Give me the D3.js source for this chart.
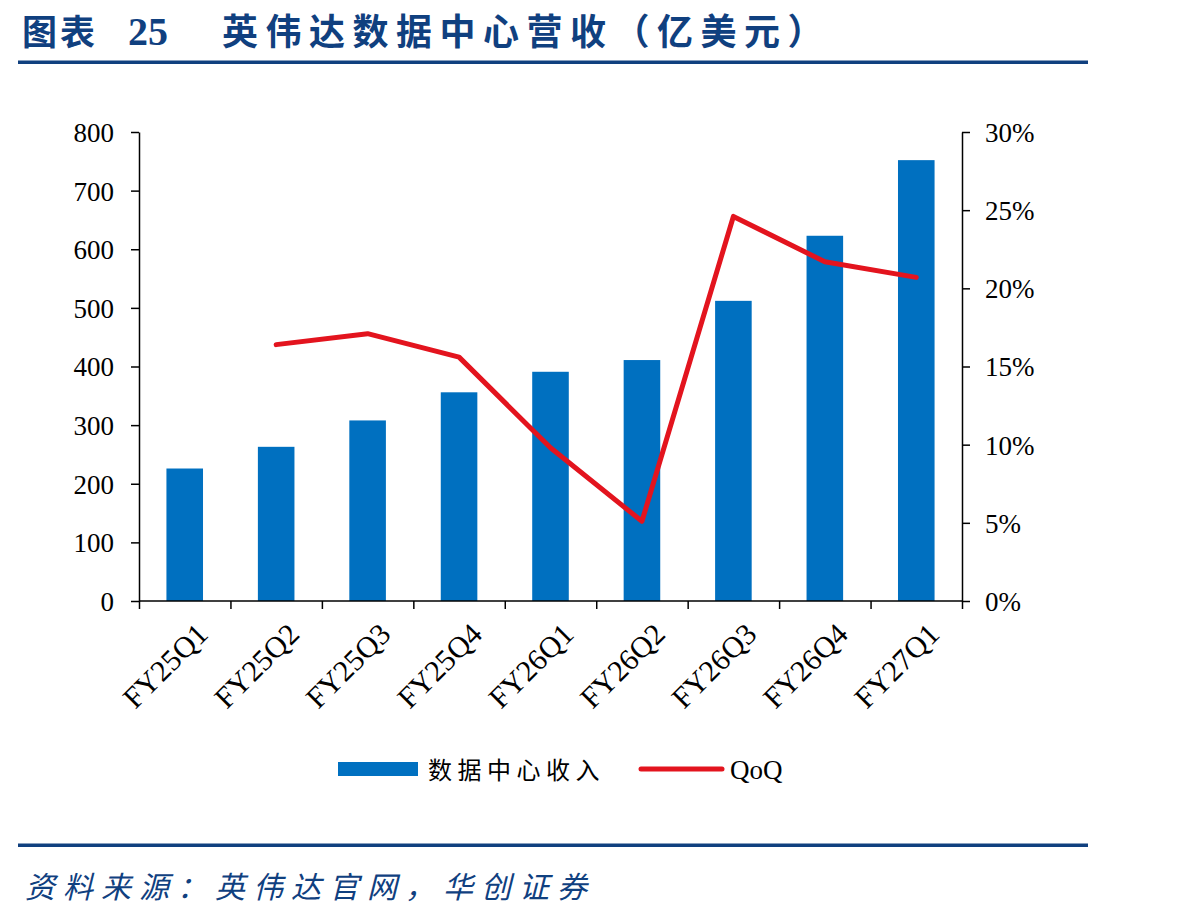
<!DOCTYPE html>
<html lang="zh">
<head>
  <meta charset="UTF-8">
  <title>英伟达数据中心营收</title>
  <style>
    body { margin: 0; background: #fff; }
    .axis text { font-family: "Liberation Serif", "DejaVu Serif", serif; font-size: 27px; fill: #000; }
    .axis path, .axis line { stroke: #000; stroke-width: 1.5; }
  </style>
</head>
<body>
  <svg id="chart" width="1198" height="922"></svg>
  <script src="https://d3js.org/d3.v7.min.js"></script>
  <script>
    // data
    const quarters = ['FY25Q1','FY25Q2','FY25Q3','FY25Q4','FY26Q1','FY26Q2','FY26Q3','FY26Q4','FY27Q1'];
    const revenue = [226, 263, 308, 356, 391, 411, 512, 623, 752];
    const qoq = [null, 16.4, 17.1, 15.6, 9.8, 5.1, 24.6, 21.7, 20.7];
    const leftTicks = [0, 100, 200, 300, 400, 500, 600, 700, 800];
    const rightTicks = [0, 5, 10, 15, 20, 25, 30];

    const BLUE = '#0070C0';
    const RED = '#E3141E';
    const NAVY = '#10407F';

    const svg = d3.select('#chart');
    const plot = {left: 139, right: 962, top: 132, bottom: 601};

    // header
    svg.append('text')
      .attr('x', 22).attr('y', 45)
      .attr('fill', NAVY)
      .style('font-family', '"Noto Sans CJK SC", sans-serif')
      .style('font-weight', 'bold')
      .style('font-size', '35px')
      .style('letter-spacing', '3px')
      .text('图表');
    svg.append('text')
      .attr('x', 128).attr('y', 45)
      .attr('fill', NAVY)
      .style('font-family', '"Liberation Serif", serif')
      .style('font-weight', 'bold')
      .style('font-size', '40px')
      .text('25');
    svg.append('text')
      .attr('x', 222).attr('y', 45)
      .attr('fill', NAVY)
      .style('font-family', '"Noto Sans CJK SC", sans-serif')
      .style('font-weight', 'bold')
      .style('font-size', '36px')
      .style('letter-spacing', '7.5px')
      .text('英伟达数据中心营收（亿美元）');
    svg.append('rect').attr('x', 18).attr('y', 60.5).attr('width', 1070).attr('height', 3.5).attr('fill', NAVY);

    // scales
    const x = d3.scaleBand().domain(quarters).range([plot.left, plot.right]).paddingInner(0.6).paddingOuter(0.3);
    const xPoint = d => x(d) + x.bandwidth() / 2;
    const yL = d3.scaleLinear().domain([0, 800]).range([plot.bottom, plot.top]);
    const yR = d3.scaleLinear().domain([0, 30]).range([plot.bottom, plot.top]);

    // bars
    svg.append('g').selectAll('rect')
      .data(quarters)
      .join('rect')
        .attr('x', d => x(d))
        .attr('y', (d, i) => yL(revenue[i]))
        .attr('width', x.bandwidth())
        .attr('height', (d, i) => yL(0) - yL(revenue[i]))
        .attr('fill', BLUE);

    // axes
    const xGrid = d3.scaleLinear().domain([0, quarters.length]).range([plot.left, plot.right]);
    svg.append('g')
      .attr('class', 'axis')
      .attr('transform', `translate(0,${plot.bottom})`)
      .call(d3.axisBottom(xGrid).tickValues(d3.range(quarters.length + 1)).tickSize(8).tickFormat(''))
      .call(g => g.select('.domain').attr('d', `M${plot.left},0H${plot.right}`));

    svg.append('g')
      .attr('class', 'axis')
      .attr('transform', `translate(${plot.left},0)`)
      .call(d3.axisLeft(yL).tickValues(leftTicks).tickSize(8).tickPadding(17).tickSizeOuter(0))
      .call(g => g.selectAll('text').attr('dy', '0.35em'));

    svg.append('g')
      .attr('class', 'axis')
      .attr('transform', `translate(${plot.right},0)`)
      .call(d3.axisRight(yR).tickValues(rightTicks).tickSize(8).tickPadding(15).tickSizeOuter(0).tickFormat(d => d + '%'))
      .call(g => g.selectAll('text').attr('dy', '0.35em'));

    // rotated category labels
    svg.append('g').selectAll('text')
      .data(quarters)
      .join('text')
        .attr('transform', d => `translate(${xPoint(d) + 10},${plot.bottom + 20}) rotate(-45)`)
        .attr('text-anchor', 'end')
        .attr('dy', '0.7em')
        .style('font-family', '"Liberation Serif", serif')
        .style('font-size', '30px')
        .text(d => d);

    // QoQ line
    const line = d3.line()
      .defined(d => d[1] != null)
      .x(d => xPoint(d[0]))
      .y(d => yR(d[1]));
    svg.append('path')
      .datum(quarters.map((q, i) => [q, qoq[i]]))
      .attr('d', line)
      .attr('fill', 'none')
      .attr('stroke', RED)
      .attr('stroke-width', 5)
      .attr('stroke-linecap', 'round')
      .attr('stroke-linejoin', 'round');

    // legend
    const legend = svg.append('g');
    legend.append('rect').attr('x', 338).attr('y', 762).attr('width', 80).attr('height', 14).attr('fill', BLUE);
    legend.append('text')
      .attr('x', 428).attr('y', 779)
      .style('font-family', '"Noto Sans CJK SC", sans-serif')
      .style('font-size', '24px')
      .style('letter-spacing', '5.5px')
      .text('数据中心收入');
    legend.append('line')
      .attr('x1', 641).attr('x2', 722).attr('y1', 769).attr('y2', 769)
      .attr('stroke', RED).attr('stroke-width', 5).attr('stroke-linecap', 'round');
    legend.append('text')
      .attr('x', 730).attr('y', 779)
      .style('font-family', '"Liberation Serif", serif')
      .style('font-size', '27px')
      .text('QoQ');

    // footer
    svg.append('rect').attr('x', 18).attr('y', 843.5).attr('width', 1070).attr('height', 3.5).attr('fill', NAVY);
    svg.append('text')
      .attr('x', 25).attr('y', 898)
      .attr('fill', NAVY)
      .style('font-family', '"Noto Sans CJK SC", sans-serif')
      .style('font-style', 'italic')
      .style('font-size', '30px')
      .style('letter-spacing', '8px')
      .text('资料来源：英伟达官网，华创证券');
  </script>
</body>
</html>
